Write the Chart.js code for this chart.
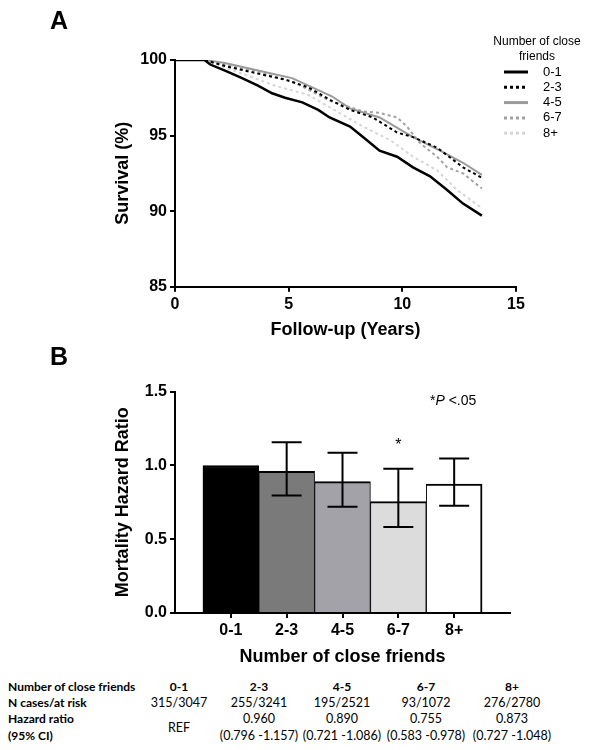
<!DOCTYPE html>
<html>
<head>
<meta charset="utf-8">
<script src="https://cdn.jsdelivr.net/npm/chart.js@4"></script>
<style>
body { margin:0; background:#fff; width:590px; height:750px; position:relative; overflow:hidden; font-family:"Liberation Sans", Arial, sans-serif; }
#chartA { position:absolute; left:0; top:0; }
#chartB { position:absolute; left:0; top:345px; }
.cell { position:absolute; font-family:Lato, "Noto Sans", sans-serif; font-size:12.5px; color:#000; white-space:nowrap; transform:translate(-50%,-50%); }
.cell.lab { transform:translate(0,-50%); font-weight:bold; font-size:12px; }
.cell.b { font-weight:bold; font-size:12px; }
</style>
</head>
<body>
<canvas id="chartA" width="590" height="345"></canvas>
<canvas id="chartB" width="590" height="325"></canvas>
<div id="table"></div>
<script>
// groups
const groups = ["0-1", "2-3", "4-5", "6-7", "8+"];

// Kaplan-Meier curves (years, survival %)
const years01 = [0, 1.3, 1.55, 2.2, 2.95, 3.65, 4.27, 4.84, 5.6, 6.3, 6.8, 7.7, 8.27, 9.0, 9.77, 10.47, 11.22, 11.97, 12.67, 13.5];
const surv01  = [100, 100, 99.7, 99.3, 98.8, 98.3, 97.8, 97.5, 97.2, 96.7, 96.2, 95.6, 94.9, 94.0, 93.6, 92.9, 92.3, 91.4, 90.5, 89.7];
const years23 = [0, 1.3, 2.2, 3.65, 4.84, 5.85, 6.9, 7.7, 8.7, 9.77, 10.47, 11.53, 12.67, 13.5];
const surv23  = [100, 100, 99.6, 99.1, 98.7, 98.2, 97.3, 96.7, 96.2, 95.2, 94.9, 94.2, 92.9, 92.2];
const years45 = [0, 1.3, 2.2, 3.65, 5.15, 6.9, 7.7, 9.0, 10.47, 11.66, 12.67, 13.5];
const surv45  = [100, 100, 99.8, 99.3, 98.8, 97.6, 96.8, 96.2, 94.9, 94.0, 93.2, 92.4];
const years67 = [0, 1.3, 2.2, 3.65, 5.15, 6.8, 8.27, 9.0, 9.77, 10.2, 10.78, 11.53, 11.97, 12.67, 13.5];
const surv67  = [100, 100, 99.7, 99.2, 98.6, 97.3, 96.6, 96.5, 96.2, 95.6, 94.5, 93.6, 92.9, 92.5, 91.5];
const years8p = [0, 1.3, 2.95, 4.4, 5.85, 6.9, 8.27, 9.46, 10.47, 11.53, 12.41, 13.5];
const surv8p  = [100, 100, 99.1, 98.3, 97.7, 96.8, 95.6, 94.7, 93.6, 92.7, 91.4, 90.2];

// hazard ratios
const hazardRatio = [1.0, 0.960, 0.890, 0.755, 0.873];
const ciLow  = [null, 0.796, 0.721, 0.583, 0.727];
const ciHigh = [null, 1.157, 1.086, 0.978, 1.048];
const nCases = ["315/3047", "255/3241", "195/2521", "93/1072", "276/2780"];
const hrText = ["", "0.960", "0.890", "0.755", "0.873"];
const ciText = ["", "(0.796 -1.157)", "(0.721 -1.086)", "(0.583 -0.978)", "(0.727 -1.048)"];

const toXY = (xs, ys) => xs.map((x, i) => ({ x: x, y: ys[i] }));
const boldTick = { family: "Liberation Sans", size: 16, weight: "bold" };
const boldTitle = { family: "Liberation Sans", size: 18, weight: "bold" };

// ---------- panel A ----------
const legendA = {
  id: "legendA",
  afterDraw(chart) {
    const ctx = chart.ctx;
    ctx.save();
    ctx.fillStyle = "#000";
    ctx.font = "bold 25px 'Liberation Sans'";
    ctx.textBaseline = "alphabetic";
    ctx.fillText("A", 50, 29);
    ctx.font = "12px 'Liberation Sans'";
    ctx.textAlign = "center";
    ctx.textBaseline = "middle";
    ctx.fillText("Number of close", 537, 42);
    ctx.fillText("friends", 537, 57);
    ctx.textAlign = "left";
    ctx.font = "13px 'Liberation Sans'";
    chart.data.datasets.forEach((ds, i) => {
      const y = 72 + i * 15.3;
      ctx.strokeStyle = ds.borderColor;
      ctx.lineWidth = 3;
      ctx.setLineDash(ds.borderDash || []);
      ctx.beginPath(); ctx.moveTo(504, y); ctx.lineTo(528, y); ctx.stroke();
      ctx.setLineDash([]);
      ctx.fillText(ds.label, 543, y);
    });
    ctx.restore();
  }
};

new Chart(document.getElementById("chartA"), {
  type: "line",
  data: {
    datasets: [
      { label: groups[0], data: toXY(years01, surv01), borderColor: "#000000", borderWidth: 2.5 },
      { label: groups[1], data: toXY(years23, surv23), borderColor: "#000000", borderWidth: 2, borderDash: [3, 3] },
      { label: groups[2], data: toXY(years45, surv45), borderColor: "#9a9a9a", borderWidth: 2 },
      { label: groups[3], data: toXY(years67, surv67), borderColor: "#a2a2a2", borderWidth: 2, borderDash: [3, 3] },
      { label: groups[4], data: toXY(years8p, surv8p), borderColor: "#d6d6d6", borderWidth: 2, borderDash: [3, 3] }
    ]
  },
  options: {
    responsive: false,
    animation: false,
    elements: { point: { radius: 0 }, line: { tension: 0 } },
    layout: { padding: { left: 112, right: 74, top: 60, bottom: 4.3 } },
    plugins: { legend: { display: false }, tooltip: { enabled: false } },
    scales: {
      x: {
        type: "linear", min: 0, max: 15,
        ticks: { stepSize: 5, color: "#000", font: boldTick, padding: 3, maxRotation: 0 },
        grid: { drawOnChartArea: false, tickLength: 5, color: "#000", lineWidth: 2 },
        border: { color: "#000", width: 2 },
        title: { display: true, text: "Follow-up (Years)", color: "#000", font: boldTitle, padding: 0 },
        afterFit(s) { s.height = 54; }
      },
      y: {
        min: 85, max: 100,
        ticks: { stepSize: 5, color: "#000", font: boldTick, padding: 3 },
        grid: { drawOnChartArea: false, tickLength: 5, color: "#000", lineWidth: 2 },
        border: { color: "#000", width: 2 },
        title: { display: true, text: "Survival (%)", color: "#000", font: boldTitle, padding: 0 },
        afterFit(s) { s.width = 63; }
      }
    }
  },
  plugins: [legendA]
});

// ---------- panel B ----------
const errorBars = {
  id: "errorBars",
  afterDatasetsDraw(chart) {
    const { ctx, scales: { x, y } } = chart;
    ctx.save();
    ctx.strokeStyle = "#000";
    ctx.lineWidth = 2;
    ciLow.forEach((lo, i) => {
      if (lo == null) return;
      const px = x.getPixelForValue(i);
      const yl = y.getPixelForValue(lo), yh = y.getPixelForValue(ciHigh[i]);
      ctx.beginPath();
      ctx.moveTo(px, yl); ctx.lineTo(px, yh);
      ctx.moveTo(px - 15, yl); ctx.lineTo(px + 15, yl);
      ctx.moveTo(px - 15, yh); ctx.lineTo(px + 15, yh);
      ctx.stroke();
    });
    // significance mark above 6-7
    ctx.fillStyle = "#000";
    ctx.textAlign = "center";
    ctx.textBaseline = "alphabetic";
    ctx.font = "16px 'Liberation Sans'";
    ctx.fillText("*", x.getPixelForValue(3), y.getPixelForValue(ciHigh[3]) - 19);
    // note
    ctx.textAlign = "left";
    ctx.font = "14px 'Liberation Sans'";
    let tx = 430;
    ctx.fillText("*", tx, 60); tx += ctx.measureText("*").width;
    ctx.font = "italic 14px 'Liberation Sans'";
    ctx.fillText("P", tx, 60); tx += ctx.measureText("P").width;
    ctx.font = "14px 'Liberation Sans'";
    ctx.fillText(" <.05", tx, 60);
    ctx.font = "bold 25px 'Liberation Sans'";
    ctx.fillText("B", 50, 20);
    ctx.restore();
  }
};

new Chart(document.getElementById("chartB"), {
  type: "bar",
  data: {
    datasets: [{
      data: hazardRatio.map((v, i) => ({ x: i, y: v })),
      backgroundColor: ["#000000", "#7a7a7a", "#a2a2a8", "#dcdcdc", "#ffffff"],
      borderColor: "#000",
      borderWidth: (c) => ({ top: 2, left: c.dataIndex === 0 ? 2 : 1, right: c.dataIndex === 4 ? 2 : 1, bottom: 0 }),
      borderSkipped: false,
      barPercentage: 1,
      categoryPercentage: 1
    }]
  },
  options: {
    responsive: false,
    animation: false,
    layout: { padding: { left: 112, right: 80, top: 46.7, bottom: 2.2 } },
    plugins: { legend: { display: false }, tooltip: { enabled: false } },
    scales: {
      x: {
        type: "linear", min: -1, max: 5, offset: false,
        afterBuildTicks(s) { s.ticks = [0, 1, 2, 3, 4].map(v => ({ value: v })); },
        ticks: { color: "#000", font: boldTick, padding: 3, maxRotation: 0, callback: (v) => groups[v] },
        grid: { offset: false, drawOnChartArea: false, tickLength: 5, color: "#000", lineWidth: 2 },
        border: { color: "#000", width: 2 },
        title: { display: true, text: "Number of close friends", color: "#000", font: boldTitle, padding: 0 },
        afterFit(s) { s.height = 54.8; }
      },
      y: {
        min: 0, max: 1.5,
        ticks: { stepSize: 0.5, color: "#000", font: boldTick, padding: 3, callback: (v) => v.toFixed(1) },
        grid: { drawOnChartArea: false, tickLength: 5, color: "#000", lineWidth: 2 },
        border: { color: "#000", width: 2 },
        title: { display: true, text: "Mortality Hazard Ratio", color: "#000", font: boldTitle, padding: 0 },
        afterFit(s) { s.width = 63; }
      }
    }
  },
  plugins: [errorBars]
});

// ---------- table ----------
const colX = [179, 259, 342, 426, 512];
const rowY = [686, 702, 718, 735];
const rowLabels = ["Number of close friends", "N cases/at risk", "Hazard ratio", "(95% CI)"];
const table = document.getElementById("table");
function cell(text, x, y, cls) {
  const d = document.createElement("div");
  d.className = "cell " + cls;
  d.textContent = text;
  d.style.left = x + "px";
  d.style.top = y + "px";
  table.appendChild(d);
}
rowLabels.forEach((t, r) => cell(t, 8, rowY[r], "lab"));
groups.forEach((g, i) => {
  cell(g, colX[i], rowY[0], "b");
  cell(nCases[i], colX[i], rowY[1], "");
  if (i === 0) {
    cell("REF", colX[i], (rowY[2] + rowY[3]) / 2, "");
  } else {
    cell(hrText[i], colX[i], rowY[2], "");
    cell(ciText[i], colX[i], rowY[3], "");
  }
});
</script>
</body>
</html>
